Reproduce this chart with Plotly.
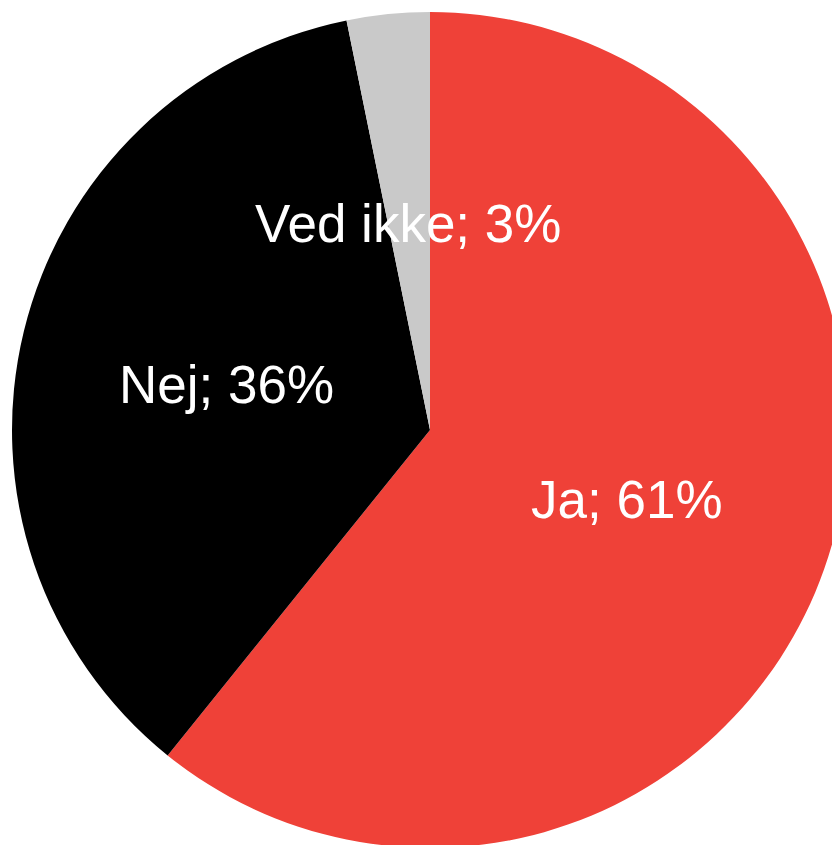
import plotly.graph_objects as go

labels = ["Ja", "Nej", "Ved ikke"]
values = [60.8, 36.0, 3.2]
colors = ["#EF4138", "#000000", "#C9C9C9"]

# label anchor positions in pixels (layout only)
label_px = {"Ja": (627, 499), "Nej": (226, 384), "Ved ikke": (408, 223)}

W, H = 848, 848
L, T = 12, 12
PW, PH = W - L, H - T

fig = go.Figure(go.Pie(
    labels=labels,
    values=values,
    marker=dict(colors=colors, line=dict(width=0)),
    sort=False,
    direction="clockwise",
    rotation=0,
    textinfo="none",
    hoverinfo="label+percent",
    showlegend=False,
))

annotations = []
for lab, val in zip(labels, values):
    px, py = label_px[lab]
    annotations.append(dict(
        x=(px - L) / PW, y=1 - (py - T) / PH,
        xref="paper", yref="paper",
        text=f"{lab}; {round(val)}%",
        showarrow=False,
        xanchor="center", yanchor="middle",
        font=dict(family="Liberation Sans, Arial, sans-serif", size=53, color="white"),
    ))

fig.update_layout(
    width=W, height=H, autosize=False,
    margin=dict(l=L, t=T, r=0, b=0, pad=0),
    paper_bgcolor="white", plot_bgcolor="white",
    annotations=annotations,
)

fig.write_html(
    "out.html",
    config={"displayModeBar": False},
    post_script="document.body.style.margin='0';document.body.style.overflow='hidden';document.documentElement.style.overflow='hidden';",
)
